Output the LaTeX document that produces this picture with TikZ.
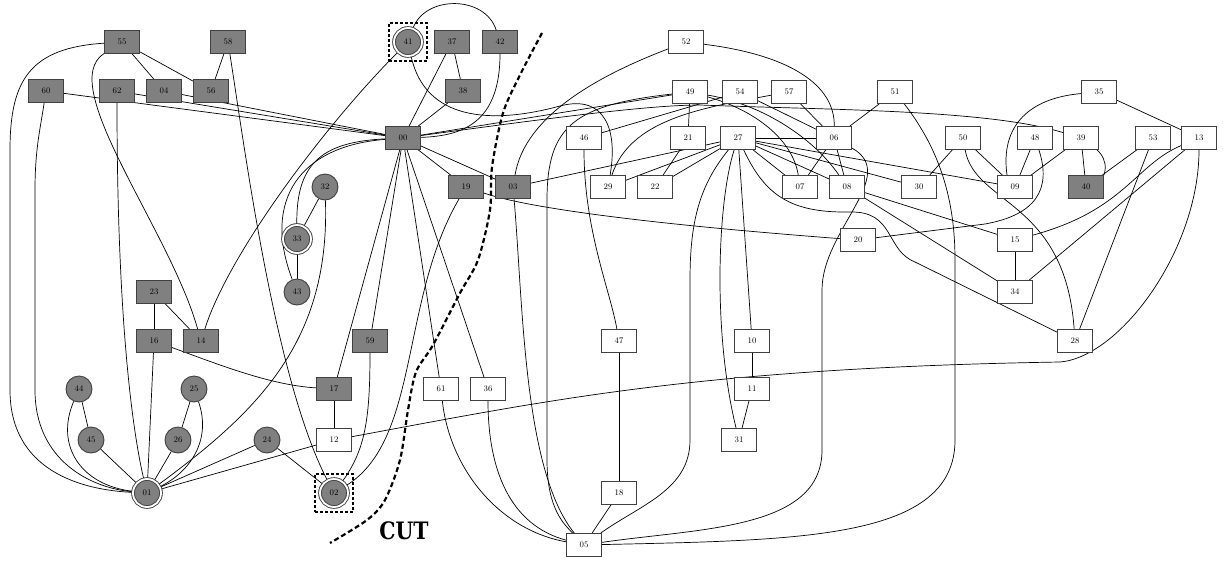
\documentclass[tikz,border=0pt]{standalone}
\usepackage{graphicx}
\usepackage{fontspec}
\newfontfamily\cutfont{DejaVu Serif}
\pgfdeclarelayer{bg}
\pgfsetlayers{bg,main}
\tikzset{
  gbox/.style={draw=black!75, line width=0.9pt, fill=gray, minimum width=35pt, minimum height=23pt, inner sep=0pt, font=\fontsize{8.5}{10}\selectfont},
  wbox/.style={gbox, fill=white},
  gcirc/.style={circle, draw=black!75, line width=0.9pt, fill=gray, minimum size=26pt, inner sep=0pt, font=\fontsize{8.5}{10}\selectfont},
  dcirc/.style={gcirc, minimum size=28pt, double=white, double distance=1.8pt},
  link/.style={line width=0.7pt},
  cutline/.style={line width=2.2pt, dash pattern=on 5pt off 3pt},
  cutbox/.style={draw, line width=2.5pt, dash pattern=on 3pt off 2pt, minimum size=38pt, inner sep=0pt}
}
\begin{document}
\begin{tikzpicture}[x=1pt, y=-1pt]
\useasboundingbox (0,0) rectangle (1223,560);
\foreach \n/\x/\y in {55/122/42, 58/228/42, 60/46/91, 62/117/91, 04/164/91, 56/211/91, 37/452/42, 42/500/42, 38/463/91, 00/403/138, 19/466/187, 03/513/187, 23/154/292, 16/154/341, 14/201/341, 59/370/341, 17/334/389, 40/1086/187}
  \node[gbox] (n\n) at (\x,\y) {\n};
\foreach \n/\x/\y in {52/686/42, 49/690/92, 54/740/92, 57/789/92, 51/895/92, 35/1099/92, 46/584/138, 21/688/138, 27/738/138, 06/834/138, 50/963/138, 48/1035/138, 39/1081/138, 53/1153/138, 13/1199/138, 29/608/187, 22/655/187, 07/800/187, 08/847/187, 30/919/187, 09/1015/187, 20/858/240, 15/1015/240, 34/1015/292, 47/619/341, 10/752/341, 28/1075/341, 61/441/389, 36/488/389, 11/752/389, 12/334/440, 31/739/440, 18/619/493, 05/584/545}
  \node[wbox] (n\n) at (\x,\y) {\n};
\foreach \n/\x/\y in {32/325/187, 43/297/292, 44/79/389, 25/194/389, 45/91/440, 26/178/440, 24/267/440}
  \node[gcirc] (n\n) at (\x,\y) {\n};
\foreach \n/\x/\y in {41/408/42, 33/297/239, 01/147/493, 02/334/493}
  \node[dcirc] (n\n) at (\x,\y) {\n};
\node[cutbox] (box41) at (n41) {};
\node[cutbox] (box02) at (n02) {};
\begin{pgfonlayer}{bg}
\foreach \a/\b in {55/04, 55/56, 58/56, 60/00, 62/00, 04/00, 32/33, 33/43, 23/16, 23/14, 16/01, 44/45, 45/01, 25/26, 26/01, 24/01, 24/02, 12/01, 17/12, 17/00, 59/00, 61/00, 36/00, 00/19, 00/03, 37/38, 37/00, 38/00, 00/49, 47/18, 18/05, 27/10, 10/11, 11/31, 49/21, 21/22, 27/22, 27/29, 27/03, 54/46, 54/06, 57/06, 51/06, 27/06, 06/07, 06/08, 27/07, 27/08, 27/30, 27/09, 08/15, 08/34, 48/09, 50/09, 50/30, 39/09, 39/40, 53/40, 53/28, 13/34, 15/34, 35/13}
  \draw[link] (n\a) -- (n\b);
\draw[link] (n55) .. controls (30,48) and (10,80) .. (10,150) -- (10,390) .. controls (10,470) and (80,490) .. (n01);
\draw[link] (n60) .. controls (40,130) and (35,150) .. (35,190) -- (35,390) .. controls (35,460) and (90,488) .. (n01);
\draw[link] (n55) .. controls (55,85) and (170,230) .. (n14);
\draw[link] (n62) .. controls (117,300) and (130,420) .. (n01);
\draw[link] (n58) .. controls (245,150) and (275,380) .. (n02);
\draw[link] (n41) .. controls (330,120) and (230,250) .. (n14);
\draw[link] (n00) .. controls (320,142) and (296,165) .. (n33);
\draw[link] (n00) .. controls (300,146) and (262,200) .. (n43);
\draw[link] (n32) .. controls (330,340) and (260,410) .. (n01);
\draw[link] (n16) .. controls (220,365) and (270,385) .. (n17);
\draw[link] (n44) .. controls (55,445) and (80,485) .. (n01);
\draw[link] (n25) .. controls (212,440) and (190,472) .. (n01);
\draw[link] (n59) .. controls (370,420) and (365,450) .. (n02);
\draw[link] (n19) .. controls (400,300) and (420,440) .. (n02);
\draw[link] (n12) .. controls (550,400) and (700,368) .. (1060,362) .. controls (1120,357) and (1199,250) .. (n13);
\draw[link] (n19) .. controls (540,212) and (700,228) .. (n20);
\draw[link] (n03) .. controls (523,300) and (523,470) .. (n05);
\draw[link] (n49) .. controls (575,105) and (547,125) .. (547,200) -- (547,460) .. controls (547,510) and (565,525) .. (n05);
\draw[link] (n46) .. controls (584,230) and (610,290) .. (n47);
\draw[link] (n61) .. controls (450,470) and (500,530) .. (n05);
\draw[link] (n36) .. controls (488,470) and (510,525) .. (n05);
\draw[link] (n27) .. controls (700,185) and (690,220) .. (690,280) -- (690,440) .. controls (690,490) and (640,505) .. (n05);
\draw[link] (n27) .. controls (718,200) and (712,330) .. (n31);
\draw[link] (n06) .. controls (900,175) and (822,230) .. (822,290) -- (822,450) .. controls (822,530) and (700,528) .. (n05);
\draw[link] (n51) .. controls (940,150) and (955,200) .. (955,260) -- (955,440) .. controls (955,540) and (800,540) .. (n05);
\draw[link] (n57) .. controls (700,108) and (630,120) .. (n29);
\draw[link] (n41) .. controls (425,120) and (490,125) .. (560,106) .. controls (605,94) and (618,130) .. (n29);
\draw[link] (n41) .. controls (425,-5) and (485,-5) .. (n42);
\draw[link] (n42) .. controls (500,125) and (460,136) .. (n00);
\draw[link] (n00) .. controls (550,118) and (650,105) .. (700,105) .. controls (880,112) and (1125,108) .. (n40.north east);
\draw[link] (n49) .. controls (755,110) and (793,140) .. (n07);
\draw[link] (n49) .. controls (765,105) and (815,140) .. (n08);
\draw[link] (n52) .. controls (790,55) and (835,85) .. (n06);
\draw[link] (n52) .. controls (600,75) and (525,115) .. (n03);
\draw[link] (n27) .. controls (765,195) and (790,213) .. (850,212) .. controls (895,211) and (885,250) .. (915,262) -- (n28);
\draw[link] (n48) .. controls (1052,190) and (1035,215) .. (985,224) -- (n20);
\draw[link] (n35) .. controls (1030,98) and (1000,125) .. ([xshift=-8pt]n09.north);
\draw[link] (n50) .. controls (975,205) and (1065,200) .. (n28);
\draw[link] (n13) .. controls (1135,165) and (1125,210) .. (n15);
\end{pgfonlayer}
\draw[cutline] plot[smooth] coordinates {(542,33) (520,75) (503,113) (492,167) (490,210) (478,260) (460,293) (433,345) (416,372) (408,410) (400,460) (385,500) (367,520) (330,543)};
\node[anchor=base, inner sep=0pt] (cut) at (404,539) {\scalebox{0.85}[1]{\cutfont\bfseries\fontsize{24}{26}\selectfont CUT}};
\end{tikzpicture}
\end{document}
